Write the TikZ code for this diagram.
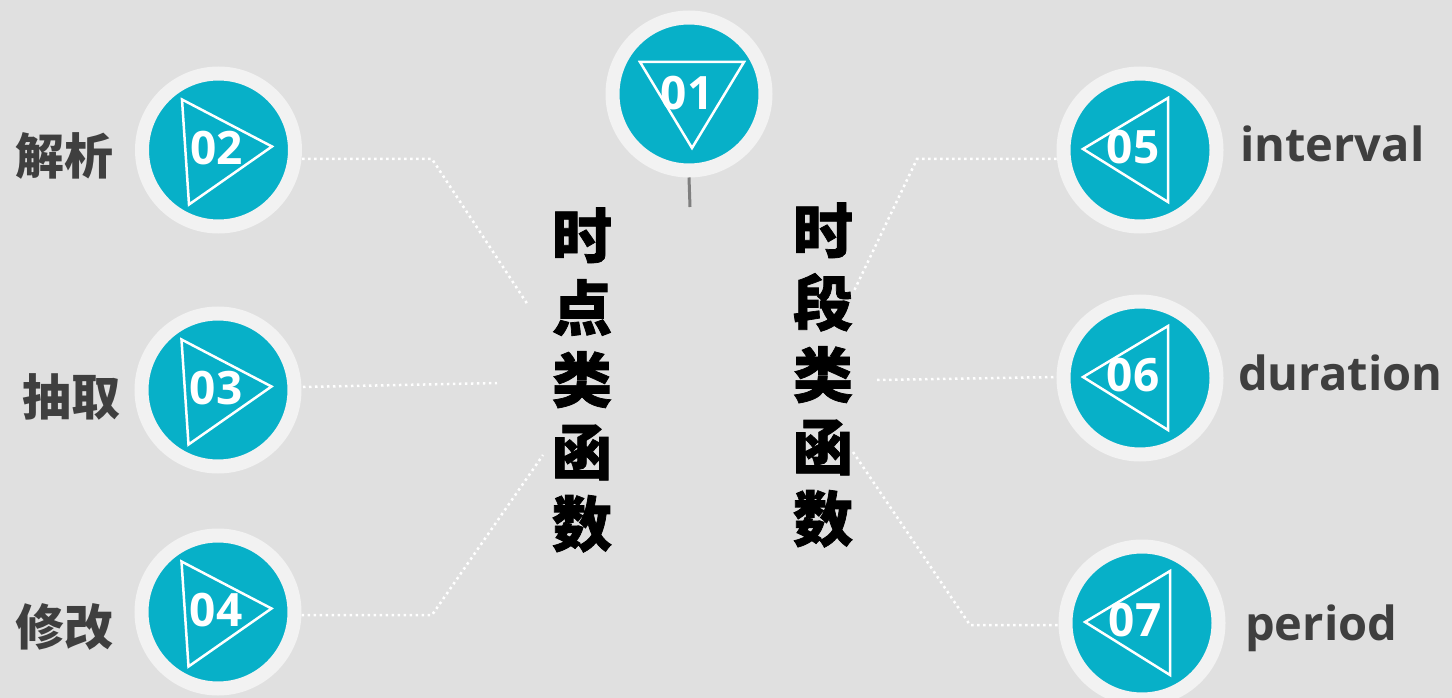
\documentclass[tikz,border=0pt]{standalone}
\usepackage{fontspec}
\setmainfont{Open Sans}
\newfontfamily\cjk{Noto Sans CJK SC}
\newfontfamily\cjkheavy{Noto Sans CJK SC}[BoldFeatures={FakeBold=1.2}]
\usetikzlibrary{calc,backgrounds}
\definecolor{bgc}{HTML}{E0E0E0}
\definecolor{ringc}{HTML}{F2F2F2}
\definecolor{tealc}{HTML}{07B0C8}
\definecolor{labc}{HTML}{3F3F3F}
\definecolor{stemc}{HTML}{7F7F7F}
\tikzset{
  badge/.style={circle, fill=tealc, draw=ringc, line width=14, minimum size=153, inner sep=0},
  tri/.style={draw=white, line width=2.5, line join=miter},
  num/.style={text=white, font=\fontsize{46}{54}\selectfont\bfseries, inner sep=0},
  dotline/.style={draw=white, line width=2.5, dash pattern=on 2.5 off 3.5},
  cnlab/.style={text=labc, font=\cjk\fontsize{49}{58}\selectfont\bfseries, inner sep=0},
  enlab/.style={text=labc, font=\fontsize{47}{56}\selectfont\bfseries, inner sep=0, anchor=base west},
  vcol/.style={text=black, font=\cjkheavy\fontsize{60}{72}\selectfont\bfseries, align=center, inner sep=0},
  stem/.style={draw=stemc, line width=3}
}
\begin{document}
\begin{tikzpicture}[x=1pt,y=-1pt]
\begin{scope}[on background layer]
\fill[bgc] (0,0) rectangle (1452,698);
\end{scope}
\useasboundingbox (0,0) rectangle (1452,698);

% badges
\node[badge] (c1) at (689,94) {};
\node[badge] (c2) at (218.5,150) {};
\node[badge] (c3) at (218,390) {};
\node[badge] (c4) at (218,612) {};
\node[badge] (c5) at (1140,150) {};
\node[badge] (c6) at (1140,378) {};
\node[badge] (c7) at (1142,623) {};

% triangles
\draw[tri, shift={(c1.center)}] (-49,-32) -- (55,-32) -- (3,54) -- cycle;
\foreach \c in {c2,c3,c4}{
  \draw[tri, shift={(\c.center)}] (-36.5,-50.5) -- (53.5,-3.5) -- (-29.5,54.5) -- cycle;
}
\foreach \c in {c5,c6,c7}{
  \draw[tri, shift={(\c.center)}] (-57,-1) -- (28,-52) -- (28,52) -- cycle;
}

% numbers
\node[num] (n1) at ($(c1)+(-2,-1)$) {01};
\node[num] (n2) at ($(c2)+(-2,-2)$) {02};
\node[num] (n3) at ($(c3)+(-2,-2)$) {03};
\node[num] (n4) at ($(c4)+(-2,-2)$) {04};
\node[num] (n5) at ($(c5)+(-7,-3)$) {05};
\node[num] (n6) at ($(c6)+(-7,-3)$) {06};
\node[num] (n7) at ($(c7)+(-7,-3)$) {07};

% labels
\node[cnlab] (l2) at (65,156) {解析};
\node[cnlab] (l3) at (72,397) {抽取};
\node[cnlab] (l4) at (65,627) {修改};
\node[enlab] (l5) at (1240,162) {interval};
\node[enlab] (l6) at (1238,390) {duration};
\node[enlab] (l7) at (1245,640) {period};

% vertical columns
\node[vcol] (colA) at (582,380) {时\\点\\类\\函\\数};
\node[vcol] (colB) at (823,375) {时\\段\\类\\函\\数};

% stem
\coordinate (s1) at (690,207);
\draw[stem] (c1.south) -- (s1);

% connectors
\coordinate (b2) at (432,159);  \coordinate (e2) at (528,305);
\coordinate (e3) at (497,383);  \coordinate (a3) at (303,387);
\coordinate (b4) at (432,615);  \coordinate (e4) at (543,455);
\coordinate (b5) at (917,159);  \coordinate (e5) at (853,293);
\coordinate (e6) at (877,380);  \coordinate (a6) at (1057,377);
\coordinate (b7) at (970,625);  \coordinate (e7) at (853,452);
\begin{scope}[on background layer]
\draw[dotline] (c2.east |- b2) -- (b2) -- (e2);
\draw[dotline] (a3) -- (e3);
\draw[dotline] (c4.east |- b4) -- (b4) -- (e4);
\draw[dotline] (c5.west |- b5) -- (b5) -- (e5);
\draw[dotline] (e6) -- (a6);
\draw[dotline] (e7) -- (b7) -- (c7.west |- b7);
\end{scope}
\end{tikzpicture}
\end{document}
